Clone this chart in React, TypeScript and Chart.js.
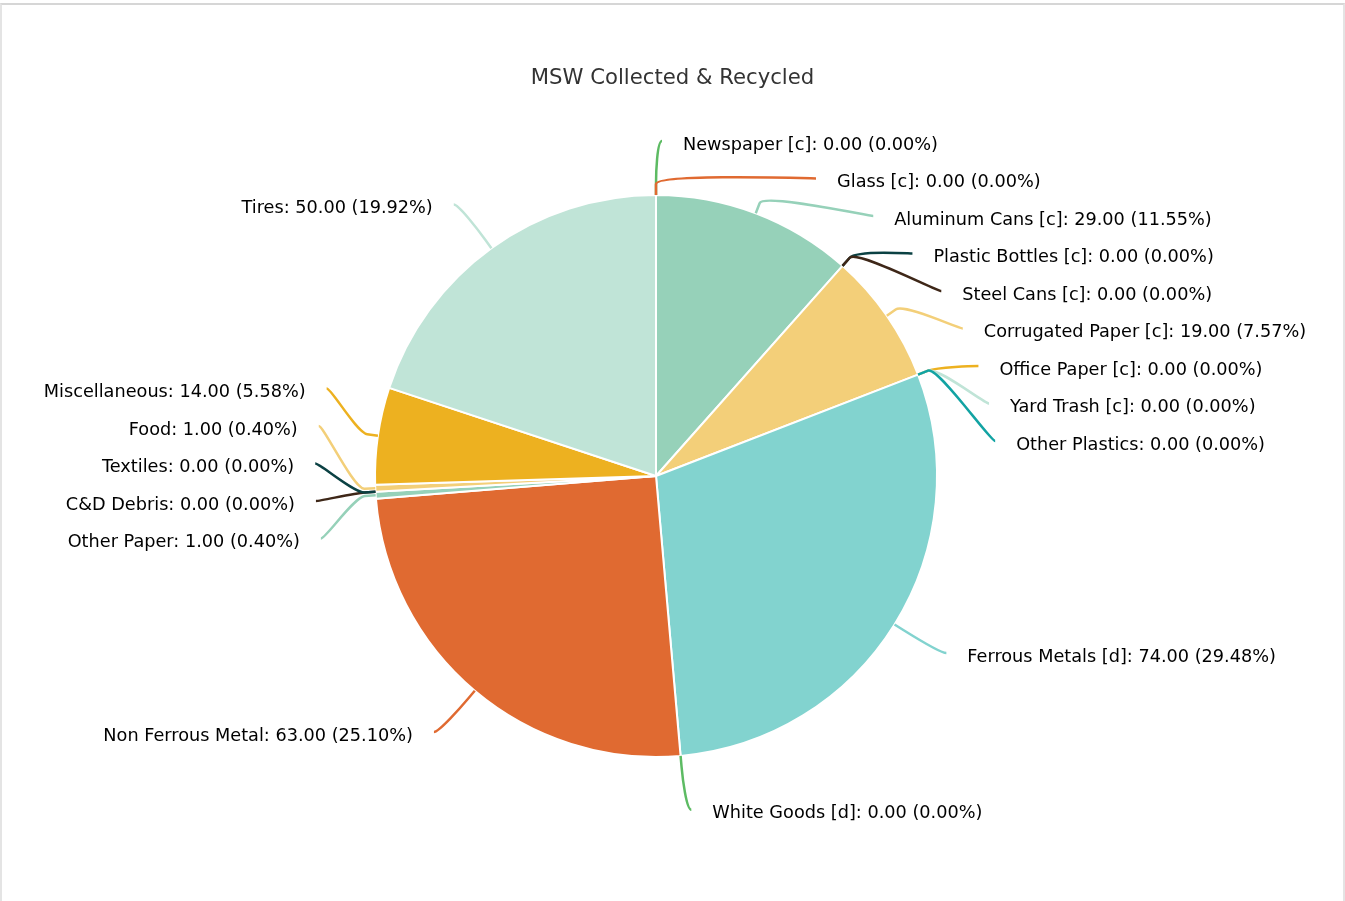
import React, { useEffect, useRef } from 'react';
import { Chart, registerables } from 'chart.js';

Chart.register(...registerables);

const TITLE = 'MSW Collected & Recycled';

const categories = [
  'Newspaper [c]',
  'Glass [c]',
  'Aluminum Cans [c]',
  'Plastic Bottles [c]',
  'Steel Cans [c]',
  'Corrugated Paper [c]',
  'Office Paper [c]',
  'Yard Trash [c]',
  'Other Plastics',
  'Ferrous Metals [d]',
  'White Goods [d]',
  'Non Ferrous Metal',
  'Other Paper',
  'C&D Debris',
  'Textiles',
  'Food',
  'Miscellaneous',
  'Tires',
];

const values = [0, 0, 29, 0, 0, 19, 0, 0, 0, 74, 0, 63, 1, 0, 0, 1, 14, 50];

const colors = [
  '#5dbb63',
  '#e06a31',
  '#96d1b9',
  '#0b4143',
  '#3e2718',
  '#f3cf79',
  '#edb120',
  '#c0e4d7',
  '#12a3a3',
  '#82d3cf',
  '#5dbb63',
  '#e06a31',
  '#96d1b9',
  '#3e2718',
  '#0b4143',
  '#f3cf79',
  '#edb120',
  '#c0e4d7',
];

const FONT_FAMILY = '"DejaVu Sans", Verdana, sans-serif';
const LABEL_FONT_SIZE = 17.7;
const TITLE_FONT_SIZE = 21.2;

type Item = {
  i: number;
  cos: number;
  sin: number;
  left: boolean;
  target: number;
  y: number;
};

function distribute(list: Item[], boxH: number, minPos: number, maxPos: number) {
  const boxes = list.map((it) => ({ items: [it], targets: [it.target], size: boxH, pos: 0 }));
  let overlapping = true;
  let guard = 0;
  while (overlapping && guard++ < 200) {
    for (const b of boxes) {
      const t = (Math.min(...b.targets) + Math.max(...b.targets)) / 2;
      b.pos = Math.min(Math.max(t - b.size / 2, minPos), maxPos - b.size);
    }
    overlapping = false;
    for (let k = boxes.length - 1; k > 0; k--) {
      const prev = boxes[k - 1];
      const cur = boxes[k];
      if (prev.pos + prev.size > cur.pos) {
        prev.size += cur.size;
        prev.targets = prev.targets.concat(cur.targets);
        prev.items = prev.items.concat(cur.items);
        boxes.splice(k, 1);
        overlapping = true;
      }
    }
  }
  for (const b of boxes) {
    b.items.forEach((it, j) => {
      it.y = b.pos + j * boxH + boxH / 2;
    });
  }
}

const titlePlugin = {
  id: 'centeredTitle',
  afterDraw(chart: any) {
    const ctx: CanvasRenderingContext2D = chart.ctx;
    ctx.save();
    ctx.font = `${TITLE_FONT_SIZE}px ${FONT_FAMILY}`;
    ctx.fillStyle = '#333333';
    ctx.textAlign = 'center';
    ctx.textBaseline = 'middle';
    ctx.fillText(TITLE, chart.width / 2, 78);
    ctx.restore();
  },
};

const pieLabelPlugin = {
  id: 'pieLabels',
  afterDatasetsDraw(chart: any) {
    const meta = chart.getDatasetMeta(0);
    const arcs = meta.data as any[];
    if (!arcs || !arcs.length) return;
    const ctx: CanvasRenderingContext2D = chart.ctx;
    const total = values.reduce((a, b) => a + b, 0);
    const cx = arcs[0].x;
    const cy = arcs[0].y;
    const r = arcs[0].outerRadius;
    const distance = 54;
    const labelR = r + distance;
    const boxH = 37.5;
    const pad = 6;
    const gap = 21;

    const items: Item[] = arcs.map((arc, i) => {
      const mid = (arc.startAngle + arc.endAngle) / 2;
      const cos = Math.cos(mid);
      const sin = Math.sin(mid);
      return { i, cos, sin, left: cos < -1e-9, target: cy + labelR * sin, y: 0 };
    });

    const right = items.filter((it) => !it.left).sort((a, b) => a.target - b.target || a.i - b.i);
    const leftSide = items.filter((it) => it.left).sort((a, b) => a.target - b.target || b.i - a.i);
    const minPos = cy - labelR - boxH / 2;
    const maxPos = cy + labelR + boxH / 2;
    distribute(right, boxH, minPos, maxPos);
    distribute(leftSide, boxH, minPos, maxPos);

    ctx.save();
    ctx.lineWidth = 2.5;
    ctx.lineJoin = 'round';
    ctx.lineCap = 'butt';
    for (const it of items) {
      const dir = it.left ? -1 : 1;
      const tx = cx + it.cos * r;
      const ty = cy + it.sin * r;
      const off = distance / 5;
      const bx = cx + it.cos * (r + off);
      const by = cy + it.sin * (r + off);
      const ratio = Math.max(-1, Math.min(1, (it.y - cy) / labelR));
      const ang = Math.asin(ratio);
      const lx = cx + dir * (Math.cos(ang) * labelR + pad);
      ctx.strokeStyle = colors[it.i];
      ctx.beginPath();
      ctx.moveTo(lx, it.y);
      ctx.bezierCurveTo(lx - dir * 5, it.y, 2 * bx - tx, 2 * by - ty, bx, by);
      ctx.lineTo(tx, ty);
      ctx.stroke();

      const v = values[it.i];
      const pct = total ? (v / total) * 100 : 0;
      const text = `${categories[it.i]}: ${v.toFixed(2)} (${pct.toFixed(2)}%)`;
      ctx.font = `${LABEL_FONT_SIZE}px ${FONT_FAMILY}`;
      ctx.fillStyle = '#000000';
      ctx.textBaseline = 'middle';
      ctx.textAlign = it.left ? 'right' : 'left';
      ctx.fillText(text, lx + dir * gap, it.y + 4);
    }
    ctx.restore();
  },
};

export default function App() {
  const canvasRef = useRef<HTMLCanvasElement | null>(null);

  useEffect(() => {
    const canvas = canvasRef.current;
    if (!canvas) return;
    Chart.defaults.font.family = FONT_FAMILY;
    const chart = new Chart(canvas, {
      type: 'pie',
      data: {
        labels: categories,
        datasets: [
          {
            data: values,
            backgroundColor: colors,
            borderColor: '#ffffff',
            borderWidth: 2,
            radius: 281,
          } as any,
        ],
      },
      options: {
        responsive: false,
        animation: false,
        layout: { padding: { left: 0, right: 33, top: 100, bottom: 49 } },
        plugins: {
          legend: { display: false },
          tooltip: { enabled: false },
          title: { display: false },
        },
      } as any,
      plugins: [pieLabelPlugin, titlePlugin],
    });
    return () => chart.destroy();
  }, []);

  return (
    <div style={{ position: 'absolute', left: 0, top: 0, width: 1345, height: 901, overflow: 'hidden', background: '#ffffff' }}>
      <div
        style={{
          position: 'absolute',
          left: 0,
          top: 3,
          width: 1345,
          height: 960,
          boxSizing: 'border-box',
          border: '2px solid #e4e4e4',
          borderTopColor: '#d6d6d6',
        }}
      />
      <canvas ref={canvasRef} width={1345} height={901} style={{ position: 'absolute', left: 0, top: 0 }} />
    </div>
  );
}
